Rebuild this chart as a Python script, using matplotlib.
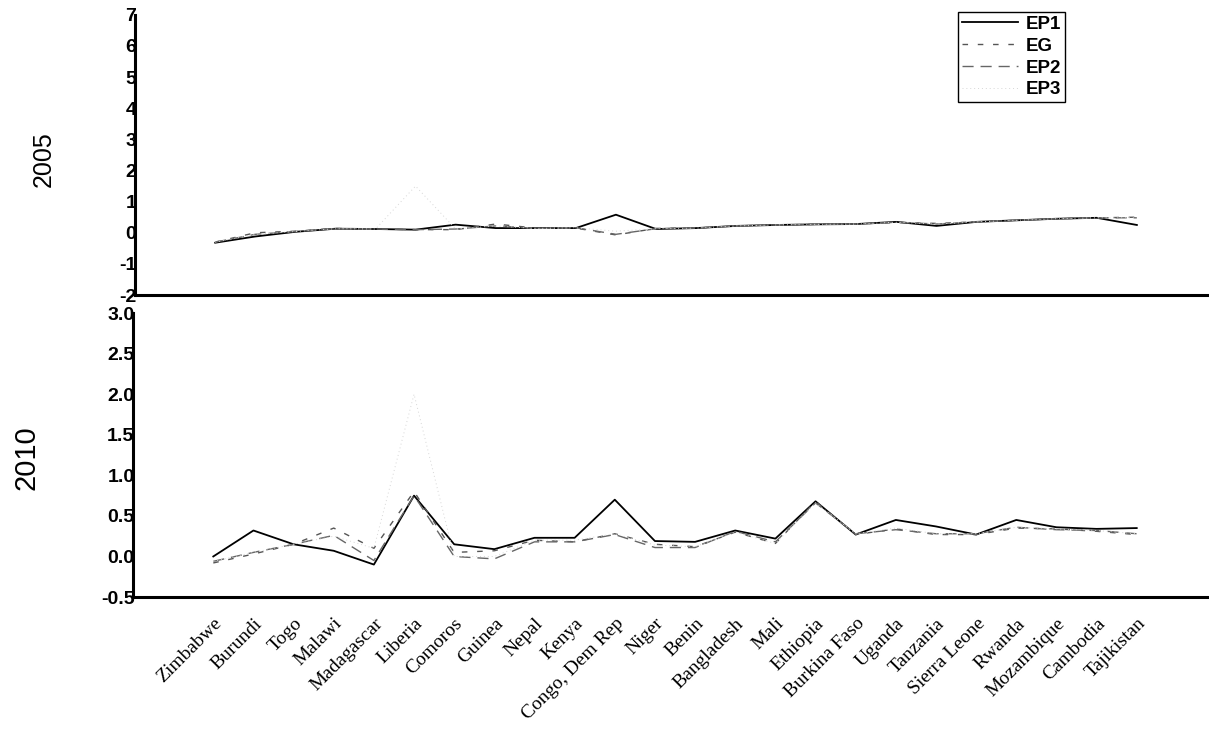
import matplotlib
matplotlib.use("Agg")
import matplotlib.pyplot as plt
import numpy as np

countries = ["Zimbabwe", "Burundi", "Togo", "Malawi", "Madagascar", "Liberia",
             "Comoros", "Guinea", "Nepal", "Kenya", "Congo, Dem Rep", "Niger",
             "Benin", "Bangladesh", "Mali", "Ethiopia", "Burkina Faso", "Uganda",
             "Tanzania", "Sierra Leone", "Rwanda", "Mozambique", "Cambodia",
             "Tajikistan"]

ep1_2005 = [-0.32, -0.12, 0.03, 0.13, 0.12, 0.10, 0.26, 0.15, 0.15, 0.15, 0.58, 0.12,
            0.15, 0.22, 0.25, 0.27, 0.28, 0.35, 0.22, 0.35, 0.40, 0.45, 0.48, 0.25]
eg_2005 = [-0.30, 0.00, 0.05, 0.14, 0.12, 0.10, 0.10, 0.28, 0.15, 0.15, -0.07, 0.14,
           0.15, 0.22, 0.25, 0.27, 0.28, 0.33, 0.30, 0.35, 0.40, 0.45, 0.48, 0.50]
ep2_2005 = [-0.30, -0.05, 0.04, 0.13, 0.12, 0.10, 0.12, 0.22, 0.14, 0.16, -0.05, 0.13,
            0.15, 0.22, 0.25, 0.27, 0.28, 0.34, 0.28, 0.35, 0.40, 0.45, 0.48, 0.48]
ep3_2005 = [-0.30, -0.05, 0.04, 0.13, 0.12, 1.50, 0.12, 0.22, 0.14, 0.16, 0.05, 0.13,
            0.15, 0.22, 0.25, 0.27, 0.28, 0.34, 0.28, 0.35, 0.40, 0.45, 0.48, 0.48]

ep1_2010 = [0.00, 0.32, 0.15, 0.07, -0.10, 0.75, 0.15, 0.09, 0.23, 0.23, 0.70, 0.19,
            0.18, 0.32, 0.22, 0.68, 0.27, 0.45, 0.37, 0.27, 0.45, 0.36, 0.34, 0.35]
eg_2010 = [-0.08, 0.03, 0.15, 0.35, 0.10, 0.80, 0.05, 0.07, 0.20, 0.18, 0.28, 0.15,
           0.12, 0.30, 0.16, 0.68, 0.27, 0.34, 0.27, 0.27, 0.35, 0.34, 0.31, 0.27]
ep2_2010 = [-0.06, 0.05, 0.15, 0.26, -0.05, 0.75, 0.00, -0.03, 0.18, 0.18, 0.27, 0.11,
            0.11, 0.31, 0.18, 0.66, 0.28, 0.33, 0.28, 0.28, 0.36, 0.33, 0.32, 0.28]
ep3_2010 = [-0.06, 0.05, 0.15, 0.25, 0.10, 2.00, 0.00, 0.00, 0.20, 0.20, 0.28, 0.14,
            0.12, 0.30, 0.16, 0.66, 0.28, 0.35, 0.28, 0.28, 0.36, 0.34, 0.32, 0.28]

series_names = ["EP1", "EG", "EP2", "EP3"]
yticks_2005 = [-2, -1, 0, 1, 2, 3, 4, 5, 6, 7]
yticks_2010 = [-0.5, 0.0, 0.5, 1.0, 1.5, 2.0, 2.5, 3.0]

styles = [
    dict(color="black", lw=1.3, linestyle="-"),
    dict(color="#555555", lw=1.0, linestyle=(0, (4, 7))),
    dict(color="#666666", lw=1.0, linestyle=(0, (8, 5))),
    dict(color="#d6d6d6", lw=0.7, linestyle=(0, (1, 3))),
]

fig = plt.figure(figsize=(12.09, 7.42), dpi=100)
ax1 = fig.add_axes([0.1117, 0.6024, 0.8883, 0.3776])
ax2 = fig.add_axes([0.1100, 0.1954, 0.8900, 0.3826])

x = np.arange(len(countries))

for ax, data in [(ax1, [ep1_2005, eg_2005, ep2_2005, ep3_2005]),
                 (ax2, [ep1_2010, eg_2010, ep2_2010, ep3_2010])]:
    for name, vals, st in zip(series_names, data, styles):
        ax.plot(x, vals, label=name, **st)
    ax.set_xlim(-2, 24.8)
    for side in ("top", "right"):
        ax.spines[side].set_visible(False)
    for side in ("left", "bottom"):
        ax.spines[side].set_linewidth(2.2)
    ax.tick_params(axis="y", length=0, pad=-1)
    ax.tick_params(axis="x", length=0)

ax1.set_ylim(-2, 7)
ax1.set_yticks(yticks_2005)
ax1.set_yticklabels([str(v) for v in yticks_2005], fontweight="bold",
                    family="Liberation Sans", fontsize=14)
ax1.set_xticks([])

ax2.set_ylim(-0.5, 3.0)
ax2.set_yticks(yticks_2010)
ax2.set_yticklabels([f"{v:.1f}" for v in yticks_2010], fontweight="bold",
                    family="Liberation Sans", fontsize=14)
ax2.set_xticks(x)
ax2.set_xticklabels(countries, rotation=45, ha="right", rotation_mode="anchor",
                    family="Liberation Serif", fontsize=14)
ax2.tick_params(axis="x", pad=13)

leg = ax1.legend(loc="upper right", bbox_to_anchor=(0.866, 1.01), borderaxespad=0,
                 frameon=True, fancybox=False, edgecolor="black", framealpha=1,
                 handlelength=3.0, handletextpad=0.4, labelspacing=0.25,
                 borderpad=0.2, prop=dict(family="Liberation Sans", weight="bold", size=13.5))
leg.get_frame().set_linewidth(1.0)

fig.text(0.036, 0.785, "2005", rotation=90, ha="center", va="center",
         family=["Liberation Sans Narrow", "Liberation Sans"], fontsize=18)
fig.text(0.022, 0.383, "2010", rotation=90, ha="center", va="center",
         family=["Liberation Sans Narrow", "Liberation Sans"], fontsize=21)

fig.savefig("out.png", dpi=100, facecolor="white")
